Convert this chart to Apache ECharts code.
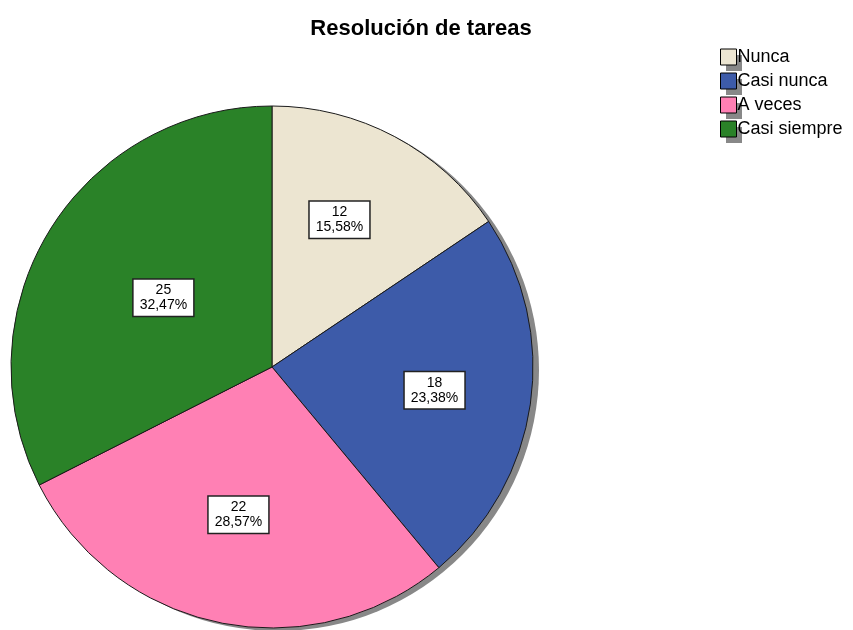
<!DOCTYPE html>
<html>
<head>
<meta charset="utf-8">
<script src="https://cdn.jsdelivr.net/npm/echarts@6/dist/echarts.min.js"></script>
<style>
  html, body { margin: 0; padding: 0; background: #fff; }
  #chart { width: 853px; height: 630px; }
</style>
</head>
<body>
<div id="chart"></div>
<script>
// categorias y frecuencias
const categorias = ['Nunca', 'Casi nunca', 'A veces', 'Casi siempre'];
const frecuencias = [12, 18, 22, 25];
const porcentajes = ['15,58%', '23,38%', '28,57%', '32,47%'];
const colores = ['#ECE5D1', '#3D5BA9', '#FF80B4', '#2A8228'];

const centro = [272, 367];
const radio = 261;
// how far out (relative to the default "inside" spot) each label sits
const labelFactor = [1.25, 1.23, 1.13, 0.99];
const labelNudgeX = [-11, 0, -3, 4];

let myChart = echarts.init(document.getElementById('chart'));

const legendBase = {
    orient: 'vertical',
    padding: 0,
    itemWidth: 16,
    itemHeight: 16,
    itemGap: 6,
    icon: 'rect',
    data: categorias,
    selectedMode: false
};

let option = {
    animation: false,
    title: {
        text: 'Resolución de tareas',
        left: 416,
        top: 13,
        textAlign: 'center',
        textStyle: { fontFamily: 'Liberation Sans', fontSize: 22, fontWeight: 'bold', color: '#000' }
    },
    legend: [
        // grey shadow squares behind the legend icons
        Object.assign({}, legendBase, {
            left: 726,
            top: 54,
            z: 1,
            textStyle: { fontSize: 18, color: 'rgba(0,0,0,0)', padding: [0, 0, 0, -4] },
            itemStyle: { color: '#888', borderWidth: 0 }
        }),
        Object.assign({}, legendBase, {
            left: 720,
            top: 48,
            z: 2,
            textStyle: { fontFamily: 'Liberation Sans', fontSize: 18, color: '#000', padding: [0, 0, 0, -4] },
            itemStyle: { borderColor: '#000', borderWidth: 1 }
        })
    ],
    series: [
        {
            // grey drop shadow behind the pie
            type: 'pie',
            silent: true,
            center: [centro[0] + 6, centro[1] + 3],
            radius: radio,
            label: { show: false },
            labelLine: { show: false },
            itemStyle: { color: '#888' },
            data: [{ value: 1, name: '' }],
            z: 1
        },
        {
            type: 'pie',
            center: centro,
            radius: radio,
            startAngle: 90,
            clockwise: true,
            z: 2,
            itemStyle: { borderColor: '#1a1a1a', borderWidth: 1 },
            label: {
                show: true,
                position: 'inside',
                formatter: (p) => p.value + '\n' + porcentajes[p.dataIndex],
                fontFamily: 'Liberation Sans',
                fontSize: 14,
                lineHeight: 15,
                color: '#000',
                backgroundColor: '#fff',
                borderColor: '#222',
                borderWidth: 1.5,
                padding: [4, 6, 2, 6]
            },
            labelLine: { show: false },
            labelLayout: (params) => {
                let r = params.labelRect;
                let cx = r.x + r.width / 2, cy = r.y + r.height / 2;
                let f = labelFactor[params.dataIndex];
                return {
                    dx: (cx - centro[0]) * (f - 1) + labelNudgeX[params.dataIndex],
                    dy: (cy - centro[1]) * (f - 1)
                };
            },
            data: categorias.map((c, i) => ({
                name: c,
                value: frecuencias[i],
                itemStyle: { color: colores[i] }
            }))
        }
    ]
};

myChart.setOption(option);
</script>
</body>
</html>
